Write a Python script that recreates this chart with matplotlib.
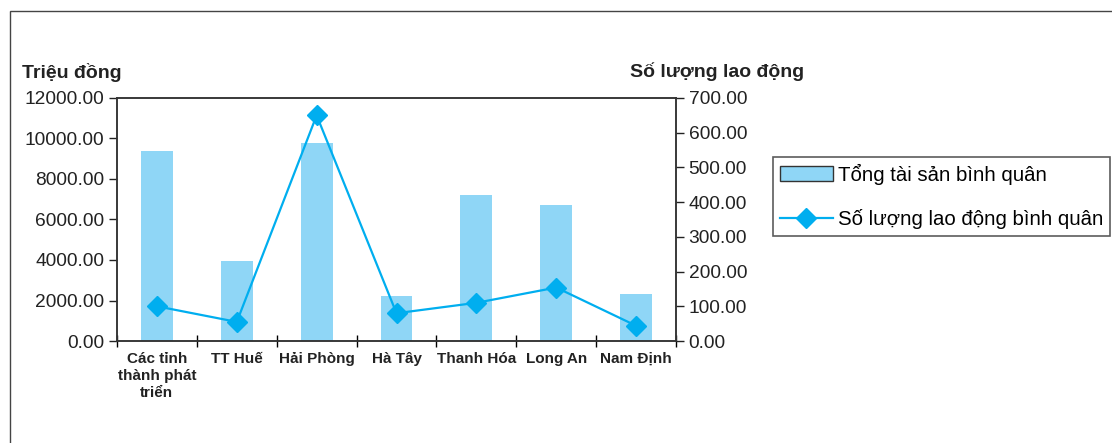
import numpy as np
import matplotlib.pyplot as plt
from matplotlib.patches import Rectangle, Patch
from matplotlib.ticker import FormatStrFormatter

# values
categories = ['Các tỉnh\nthành phát\ntriển', 'TT Huế', 'Hải Phòng', 'Hà Tây',
              'Thanh Hóa', 'Long An', 'Nam Định']
tong_tai_san = [9370, 3930, 9770, 2230, 7220, 6720, 2330]   # Triệu đồng
so_lao_dong = [100, 55, 650, 80, 110, 154, 44]               # người

bar_color = '#8fd6f6'
line_color = '#00aeef'

plt.rcParams['font.family'] = ['Liberation Sans', 'DejaVu Sans']

fig = plt.figure(figsize=(11.12, 4.43), dpi=100)
ax = fig.add_axes([117 / 1112, 1 - 341 / 443, (676 - 117) / 1112, (341 - 98) / 443])
ax2 = ax.twinx()

x = np.arange(len(categories))
bars = ax.bar(x, tong_tai_san, width=0.4, color=bar_color, zorder=1)
line, = ax2.plot(x, so_lao_dong, color=line_color, lw=1.6, marker='D', ms=10.5)

ax.set_xlim(-0.5, len(categories) - 0.5)
ax.set_ylim(0, 12000)
ax.set_yticks(np.arange(0, 12001, 2000))
ax.yaxis.set_major_formatter(FormatStrFormatter('%.2f'))
ax2.set_ylim(0, 700)
ax2.set_yticks(np.arange(0, 701, 100))
ax2.yaxis.set_major_formatter(FormatStrFormatter('%.2f'))

ax.set_xticks(x)
ax.set_xticklabels(categories, fontweight='bold', fontsize=11, color='#222222',
                   linespacing=1.25)
ax.set_xticks(np.arange(-0.5, len(categories), 1), minor=True)
ax.tick_params(axis='x', which='major', length=0, pad=8)
ax.tick_params(axis='x', which='minor', length=8, direction='inout', width=1)
ax.tick_params(axis='y', length=6, width=1, labelsize=13.8, pad=3, colors='#222222')
ax2.tick_params(axis='y', length=6, width=1, labelsize=13.8, pad=3, colors='#222222')

for a in (ax, ax2):
    for s in a.spines.values():
        s.set_color('#333333')
        s.set_linewidth(1.1)

fig.text(22 / 1112, 1 - 72 / 443, 'Triệu đồng', fontsize=14, fontweight='bold',
         va='center', ha='left', color='#222222')
fig.text(630 / 1112, 1 - 72 / 443, 'Số lượng lao động', fontsize=14, fontweight='bold',
         va='center', ha='left', color='#222222')

handles = [Patch(facecolor=bar_color, edgecolor='#333333', lw=1.0), line]
labels = ['Tổng tài sản bình quân', 'Số lượng lao động bình quân']
leg = fig.legend(handles, labels, loc='upper left',
                 bbox_to_anchor=(773 / 1112, 1 - 157 / 443), fontsize=14.7,
                 frameon=True, fancybox=False, borderaxespad=0, handlelength=2.6,
                 handletextpad=0.25, labelspacing=1.2, borderpad=0.32)
leg.get_frame().set_edgecolor('#333333')
leg.get_frame().set_linewidth(1.2)

# outer frame of the original figure (top and left edges)
fig.add_artist(Rectangle((10 / 1112, -0.2), 1.2, 1.2 - 11 / 443,
                         transform=fig.transFigure, fill=False,
                         edgecolor='#444444', lw=1.0))

fig.savefig('out.png', dpi=100)
